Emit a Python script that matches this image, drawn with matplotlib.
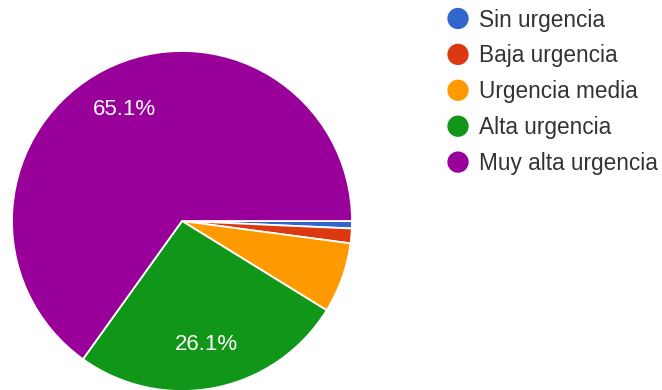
import matplotlib.pyplot as plt

# Survey answers, clockwise from 3 o'clock
CATEGORIES = ["Sin urgencia", "Baja urgencia", "Urgencia media",
              "Alta urgencia", "Muy alta urgencia"]
PERCENTS = [0.7, 1.4, 6.7, 26.1, 65.1]
COLORS = ["#3366cc", "#dc3912", "#ff9900", "#109618", "#990099"]

W, H = 662, 390
plt.rcParams["font.family"] = ["Liberation Sans", "DejaVu Sans"]

fig = plt.figure(figsize=(W / 100, H / 100), dpi=100)

# pie: centre at (182, 221) px, radius 170 px
cx, cy, r = 182, 221, 170
ax = fig.add_axes([(cx - r) / W, (H - cy - r) / H, 2 * r / W, 2 * r / H])


def show_pct(p):
    # only the big slices get a label, like the Google Forms chart
    return f"{p:.1f}%" if p >= 10 else ""


wedges, texts, autotexts = ax.pie(
    PERCENTS, colors=COLORS, startangle=0, counterclock=False,
    autopct=show_pct, pctdistance=0.74, radius=1,
    wedgeprops=dict(edgecolor="white", linewidth=1.3),
    textprops=dict(color="white", fontsize=16),
)
ax.set_xlim(-1, 1)
ax.set_ylim(-1, 1)
ax.set_aspect("equal")
ax.axis("off")

# legend drawn on an overlay axes in pixel coordinates
lax = fig.add_axes([0, 0, 1, 1])
lax.set_xlim(0, W)
lax.set_ylim(H, 0)
lax.axis("off")
for i, (label, color) in enumerate(zip(CATEGORIES, COLORS)):
    y = 18.5 + i * 35.9
    lax.scatter([458], [y], s=235, color=color, edgecolors="none")
    lax.text(479, y + 8, label, fontsize=16.3, color="#333333", va="baseline")

plt.savefig("out.png", dpi=100)
